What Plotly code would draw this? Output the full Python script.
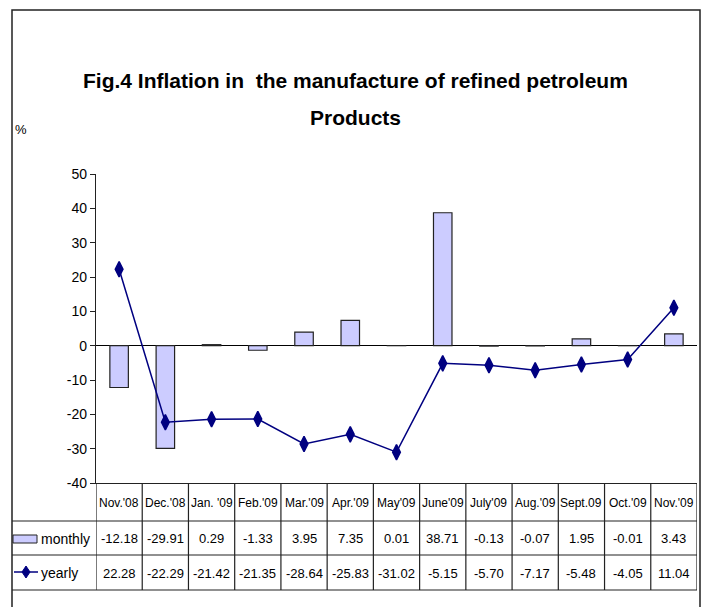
import plotly.graph_objects as go

categories = ["Nov.'08", "Dec.'08", "Jan. '09", "Feb.'09", "Mar.'09", "Apr.'09", "May'09",
              "June'09", "July'09", "Aug.'09", "Sept.09", "Oct.'09", "Nov.'09"]
monthly = [-12.18, -29.91, 0.29, -1.33, 3.95, 7.35, 0.01, 38.71, -0.13, -0.07, 1.95, -0.01, 3.43]
yearly = [22.28, -22.29, -21.42, -21.35, -28.64, -25.83, -31.02, -5.15, -5.70, -7.17, -5.48, -4.05, 11.04]
y_ticks = [-40, -30, -20, -10, 0, 10, 20, 30, 40, 50]

W_PX, H_PX = 704, 607
L, R, T, B = 96, 697, 174, 483
PW, PH = R - L, B - T

def px(x):
    return (x - L) / PW

def py(y):
    return (B - y) / PH

FONT = "Liberation Sans, Arial, sans-serif"
BAR_FILL = "#CCCCFF"
LINE_COL = "#000080"
EDGE = "#222222"
DIAMOND = dict(symbol="diamond-tall", size=11, color=LINE_COL, line=dict(color=LINE_COL, width=1.5))

fig = go.Figure()
xs = list(range(len(categories)))
fig.add_trace(go.Bar(x=xs, y=monthly, width=0.4, name="monthly",
                     marker=dict(color=BAR_FILL, line=dict(color=EDGE, width=1.2))))
fig.add_trace(go.Scatter(x=xs, y=yearly, mode="lines+markers", name="yearly",
                         line=dict(color=LINE_COL, width=1.5), marker=DIAMOND))

shapes = []
# outer border
shapes.append(dict(type="rect", xref="paper", yref="paper", x0=px(12), x1=px(700), y0=py(615), y1=py(10),
                   line=dict(color=EDGE, width=1.5), layer="above"))
# table horizontal lines
for yy in (521, 555, 590):
    shapes.append(dict(type="line", xref="paper", yref="paper", x0=px(12), x1=px(R), y0=py(yy), y1=py(yy),
                       line=dict(color=EDGE, width=1.2)))
# table vertical lines at category boundaries
for k in range(len(categories) + 1):
    shapes.append(dict(type="line", xref="x", yref="paper", x0=k - 0.5, x1=k - 0.5, y0=py(B), y1=py(590),
                       line=dict(color=EDGE, width=1.2)))
# legend swatches
shapes.append(dict(type="rect", xref="paper", yref="paper", x0=px(13), x1=px(37), y0=py(543), y1=py(535),
                   fillcolor=BAR_FILL, line=dict(color=EDGE, width=1)))
shapes.append(dict(type="line", xref="paper", yref="paper", x0=px(14), x1=px(38), y0=py(572), y1=py(572),
                   line=dict(color=LINE_COL, width=1.5)))
cx, cy, hw, hh = 26, 572, 4, 6
diamond_path = (f"M {px(cx)},{py(cy - hh)} L {px(cx + hw)},{py(cy)} "
                f"L {px(cx)},{py(cy + hh)} L {px(cx - hw)},{py(cy)} Z")
shapes.append(dict(type="path", xref="paper", yref="paper", path=diamond_path,
                   fillcolor=LINE_COL, line=dict(color=LINE_COL, width=1)))

annotations = []
annotations.append(dict(text="<b>Fig.4 Inflation in  the manufacture of refined petroleum</b>", xref="paper", yref="paper",
                        x=px(355), y=py(80), xanchor="center", yanchor="middle", showarrow=False,
                        font=dict(family=FONT, size=21, color="black")))
annotations.append(dict(text="<b>Products</b>", xref="paper", yref="paper",
                        x=px(355), y=py(118), xanchor="center", yanchor="middle", showarrow=False,
                        font=dict(family=FONT, size=21, color="black")))
annotations.append(dict(text="%", xref="paper", yref="paper", x=px(13), y=py(129), xanchor="left", yanchor="middle",
                        showarrow=False, font=dict(family=FONT, size=13, color="black")))
for i, c in enumerate(categories):
    annotations.append(dict(text=c, xref="x", yref="paper", x=i, y=py(503), xanchor="center", yanchor="middle",
                            showarrow=False, font=dict(family=FONT, size=12, color="black")))
    annotations.append(dict(text=f"{monthly[i]:.2f}", xref="x", yref="paper", x=i, y=py(538), xanchor="center",
                            yanchor="middle", showarrow=False, font=dict(family=FONT, size=13, color="black")))
    annotations.append(dict(text=f"{yearly[i]:.2f}", xref="x", yref="paper", x=i, y=py(573), xanchor="center",
                            yanchor="middle", showarrow=False, font=dict(family=FONT, size=13, color="black")))
annotations.append(dict(text="monthly", xref="paper", yref="paper", x=px(39), y=py(539), xanchor="left", yanchor="middle",
                        showarrow=False, font=dict(family=FONT, size=14, color="black")))
annotations.append(dict(text="yearly", xref="paper", yref="paper", x=px(39), y=py(573), xanchor="left", yanchor="middle",
                        showarrow=False, font=dict(family=FONT, size=14, color="black")))

fig.update_layout(
    width=W_PX, height=H_PX,
    margin=dict(l=L, r=W_PX - R, t=T, b=H_PX - B),
    paper_bgcolor="white", plot_bgcolor="white",
    showlegend=False,
    xaxis=dict(range=[-0.5, len(categories) - 0.5], showticklabels=False, ticks="", showgrid=False,
               zeroline=False, showline=True, linecolor=EDGE, linewidth=1.2),
    yaxis=dict(range=[-40, 50], tickvals=y_ticks, ticktext=[str(v) for v in y_ticks],
               ticks="outside", ticklen=5, tickcolor=EDGE,
               showgrid=False, zeroline=True, zerolinecolor="black", zerolinewidth=1.2,
               showline=True, linecolor=EDGE, linewidth=1.2,
               tickfont=dict(family=FONT, size=14, color="black")),
    shapes=shapes,
    annotations=annotations,
)

fig.write_html("out.html", config={"displayModeBar": False},
               post_script="document.body.style.margin='0';document.body.style.overflow='hidden';")
